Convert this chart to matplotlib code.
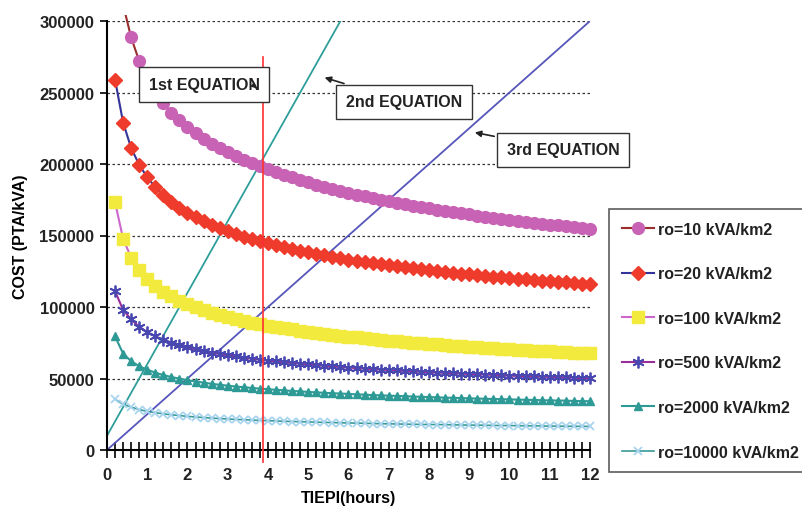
import numpy as np
import matplotlib
matplotlib.use("Agg")
import matplotlib.pyplot as plt
from matplotlib.ticker import MultipleLocator
from matplotlib.patches import Rectangle

plt.rcParams['font.family'] = ['Liberation Sans', 'DejaVu Sans']
plt.rcParams['font.weight'] = 'bold'

# TIEPI (hours), one point every 0.2 h
tiepi = np.round(np.arange(1, 61) * 0.2, 1)

# cost values in thousands of PTA/kVA
cost_ro10_k = [357.7, 311.4, 288.5, 272.0, 259.3, 250.0, 242.4, 236.0, 230.5, 225.7,
               221.5, 217.6, 214.2, 211.0, 208.1, 205.5, 203.0, 200.7, 198.5, 196.5,
               194.4, 192.5, 190.6, 188.8, 187.2, 185.6, 184.1, 182.6, 181.2, 179.9,
               178.6, 177.4, 176.2, 175.0, 173.9, 172.9, 171.8, 170.8, 169.9, 168.9,
               168.0, 167.2, 166.3, 165.5, 164.7, 163.9, 163.1, 162.4, 161.6, 160.9,
               160.2, 159.6, 158.9, 158.2, 157.6, 157.0, 156.4, 155.8, 155.2, 154.7]
cost_ro20_k = [259.0, 229.0, 211.2, 199.4, 190.7, 183.8, 178.3, 173.6, 169.5, 166.0,
               162.9, 160.0, 157.5, 155.2, 153.1, 151.1, 149.3, 147.6, 146.0, 144.5,
               143.1, 141.8, 140.5, 139.3, 138.2, 137.1, 136.1, 135.1, 134.2, 133.2,
               132.4, 131.5, 130.7, 129.9, 129.2, 128.5, 127.8, 127.1, 126.4, 125.8,
               125.2, 124.6, 124.0, 123.4, 122.9, 122.3, 121.8, 121.3, 120.8, 120.3,
               119.8, 119.4, 118.9, 118.5, 118.0, 117.6, 117.2, 116.8, 116.4, 116.0]
cost_ro100_k = [173.3, 147.7, 134.6, 126.0, 119.7, 114.8, 110.8, 107.4, 104.5, 102.0,
                99.8, 97.9, 96.1, 94.4, 93.0, 91.6, 90.3, 89.1, 88.0, 87.0,
                86.0, 85.1, 84.3, 83.4, 82.7, 81.9, 81.2, 80.5, 79.9, 79.2,
                78.7, 78.1, 77.5, 77.0, 76.5, 76.0, 75.5, 75.1, 74.6, 74.2,
                73.8, 73.3, 73.0, 72.6, 72.2, 71.8, 71.5, 71.1, 70.8, 70.5,
                70.1, 69.8, 69.5, 69.2, 68.9, 68.7, 68.4, 68.1, 67.8, 67.6]
cost_ro500_k = [111.0, 98.0, 91.3, 86.2, 82.5, 79.5, 77.1, 75.1, 73.3, 71.8,
                70.4, 69.2, 68.1, 67.1, 66.2, 65.4, 64.6, 63.8, 63.1, 62.5,
                61.9, 61.3, 60.8, 60.3, 59.8, 59.3, 58.9, 58.4, 58.0, 57.6,
                57.3, 56.9, 56.5, 56.2, 55.9, 55.6, 55.3, 55.0, 54.7, 54.4,
                54.1, 53.9, 53.6, 53.4, 53.1, 52.9, 52.7, 52.5, 52.2, 52.0,
                51.8, 51.6, 51.4, 51.2, 51.1, 50.9, 50.7, 50.5, 50.3, 50.2]
cost_ro2000_k = [79.5, 67.4, 62.1, 58.6, 56.1, 54.1, 52.4, 51.0, 49.9, 48.8,
                 47.9, 47.1, 46.3, 45.6, 45.0, 44.4, 43.9, 43.4, 42.9, 42.5,
                 42.1, 41.7, 41.3, 41.0, 40.6, 40.3, 40.0, 39.7, 39.5, 39.2,
                 38.9, 38.7, 38.4, 38.2, 38.0, 37.8, 37.6, 37.4, 37.2, 37.0,
                 36.8, 36.6, 36.5, 36.3, 36.1, 36.0, 35.8, 35.7, 35.5, 35.4,
                 35.2, 35.1, 35.0, 34.8, 34.7, 34.6, 34.5, 34.3, 34.2, 34.1]
cost_ro10000_k = [35.5, 32.0, 30.0, 28.3, 27.0, 26.1, 25.3, 24.6, 24.1, 23.5,
                  23.1, 22.7, 22.3, 22.0, 21.7, 21.4, 21.2, 20.9, 20.7, 20.5,
                  20.3, 20.1, 19.9, 19.8, 19.6, 19.5, 19.3, 19.2, 19.0, 18.9,
                  18.8, 18.7, 18.5, 18.4, 18.3, 18.2, 18.1, 18.0, 17.9, 17.8,
                  17.8, 17.7, 17.6, 17.5, 17.4, 17.4, 17.3, 17.2, 17.1, 17.1,
                  17.0, 16.9, 16.9, 16.8, 16.7, 16.7, 16.6, 16.6, 16.5, 16.5]

labels = ["ro=10 kVA/km2", "ro=20 kVA/km2", "ro=100 kVA/km2",
          "ro=500 kVA/km2", "ro=2000 kVA/km2", "ro=10000 kVA/km2"]

# equation lines (cost grows linearly with TIEPI)
eq2_x = [0, 6.0]
eq2_y = [10000, 310000]
eq3_x = [0, 12]
eq3_y = [0, 300000]
tiepi_limit = 3.88

fig = plt.figure(figsize=(8.03, 5.10), dpi=100)
ax = fig.add_axes([107/803, 59/510, 483/803, 429/510])

clip = Rectangle((-0.03, -0.02), 1.06, 1.035, transform=ax.transAxes,
                 facecolor='none', edgecolor='none')

styles = [
    dict(color='#9B2D2D', marker='o', mfc='#C862B4', mec='#C862B4', ms=8.5, lw=1.5),
    dict(color='#33339A', marker='D', mfc='#EE3B2B', mec='#EE3B2B', ms=7, lw=1.5),
    dict(color='#CC66CC', marker='s', mfc='#F2EA3C', mec='#F2EA3C', ms=8, lw=1.5),
    dict(color='#992E99', marker=(6, 2, 0), mfc='#4848B0', mec='#4848B0', ms=8.5, mew=1.3, lw=1.5),
    dict(color='#2E9A96', marker='^', mfc='#2E9A96', mec='#2E9A96', ms=6, lw=1.5),
    dict(color='#3A9A9A', marker='x', mfc='#A8D4EE', mec='#A8D4EE', ms=5.5, mew=1.3, lw=1.2),
]
series = [cost_ro10_k, cost_ro20_k, cost_ro100_k, cost_ro500_k, cost_ro2000_k, cost_ro10000_k]

handles = []
for vals, lab, st in zip(series, labels, styles):
    ln, = ax.plot(tiepi, np.array(vals) * 1000, label=lab, zorder=3, **st)
    ln.set_clip_path(clip)
    handles.append(ln)

ax.plot(eq2_x, eq2_y, color='#2E9E9A', lw=1.3, zorder=2)
ax.plot(eq3_x, eq3_y, color='#5555BB', lw=1.3, zorder=2)
ax.plot([tiepi_limit, tiepi_limit], [-8400, 275000], color='#FF3030', lw=1.2,
        clip_on=False, zorder=4)

ax.set_xlim(0, 12)
ax.set_ylim(0, 300000)

# dotted horizontal gridlines
for gy in range(50000, 300001, 50000):
    ax.plot([0, 12], [gy, gy], color='#333333', lw=0.9, ls=(0, (2, 2)), zorder=1)

ax.spines['top'].set_visible(False)
ax.spines['right'].set_visible(False)
ax.spines['left'].set_linewidth(1.5)
ax.spines['bottom'].set_linewidth(1.5)

ax.xaxis.set_major_locator(MultipleLocator(1))
ax.xaxis.set_minor_locator(MultipleLocator(0.2))
ax.yaxis.set_major_locator(MultipleLocator(50000))
ax.tick_params(axis='x', which='both', direction='inout', length=11, width=1.2,
               labelsize=12, pad=7)
ax.tick_params(axis='y', direction='out', length=5, width=1.2, labelsize=12, pad=4)
for t in ax.get_xticklabels() + ax.get_yticklabels():
    t.set_fontweight('bold')
    t.set_color('#222222')

ax.set_xlabel("TIEPI(hours)", fontsize=11.5, fontweight='bold')
ax.xaxis.set_label_coords(0.499, -0.094)
ax.set_ylabel("COST (PTA/kVA)", fontsize=11.5, fontweight='bold', labelpad=8)

box = dict(boxstyle='square,pad=0.6', facecolor='white', edgecolor='#333333', lw=1)
ax.text(2.42, 255600, "1st EQUATION", fontsize=11.5, fontweight='bold', ha='center',
        va='center', bbox=box, zorder=5, color='#222222')
ax.annotate("", xy=(3.77, 251500), xytext=(3.6, 256000), zorder=6,
            arrowprops=dict(arrowstyle='-|>', color='#222222', lw=1, mutation_scale=7))
ax.annotate("2nd EQUATION", xy=(5.34, 261000), xytext=(7.38, 243400),
            fontsize=11.5, fontweight='bold', ha='center', va='center', color='#222222',
            bbox=box, zorder=5,
            arrowprops=dict(arrowstyle='-|>', color='#222222', lw=1.2, mutation_scale=9))
ax.annotate("3rd EQUATION", xy=(9.07, 222400), xytext=(11.34, 209800),
            fontsize=11.5, fontweight='bold', ha='center', va='center', color='#222222',
            bbox=box, zorder=5, annotation_clip=False,
            arrowprops=dict(arrowstyle='-|>', color='#222222', lw=1.2, mutation_scale=9))

leg = fig.legend(handles=handles, loc='upper left', bbox_to_anchor=(609/803, 1 - 210/510),
                 bbox_transform=fig.transFigure, fontsize=11.5, frameon=True, fancybox=False,
                 edgecolor='#333333', labelspacing=1.85, handlelength=2.0, handletextpad=0.25,
                 borderpad=0.8, borderaxespad=0)
leg.get_frame().set_linewidth(1.2)
for t in leg.get_texts():
    t.set_fontweight('bold')
    t.set_color('#222222')

plt.savefig("out.png", dpi=100)
